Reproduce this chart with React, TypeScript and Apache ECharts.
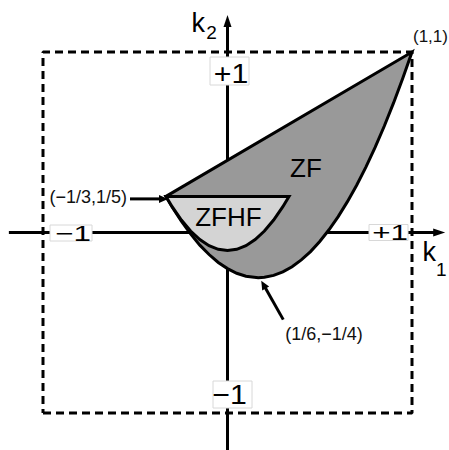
import { useEffect, useRef } from "react";
import * as echarts from "echarts";

// ---- data ----
const squareCorners = [[-1, -1], [1, -1], [1, 1], [-1, 1], [-1, -1]];
// axis lines: [x1, y1, x2, y2]
const axisLines = [
  [-1.185, 0, 1.18, 0],
  [0, -1.21, 0, 1.205],
];
const axisNames = ["k", "k"];
const axisSubscripts = ["1", "2"];
const tickPoints = [[1, 0], [-1, 0], [0, 1], [0, -1]];
const tickTexts = ["+1", "−1", "+1", "−1"];
// ZF: lower boundary from (-1/3,1/5) to (1,1); upper boundary is the straight edge back
const zfLowerBoundary = [
  [-0.3333, 0.2], [-0.3, 0.142], [-0.25, 0.0625], [-0.2, -0.008], [-0.15, -0.07],
  [-0.1, -0.122], [-0.05, -0.166], [0, -0.2], [0.05, -0.226], [0.1, -0.242],
  [0.1667, -0.25], [0.2, -0.248], [0.25, -0.2375], [0.3, -0.218], [0.35, -0.19],
  [0.4, -0.152], [0.45, -0.106], [0.5, -0.05], [0.55, 0.015], [0.6, 0.088],
  [0.65, 0.171], [0.7, 0.262], [0.75, 0.3625], [0.8, 0.472], [0.85, 0.59],
  [0.9, 0.718], [0.95, 0.855], [1, 1],
];
// ZFHF: lower boundary from (-1/3,1/5) to (1/3,1/5); top is the straight edge k2 = 1/5
const zfhfLowerBoundary = [
  [-0.3333, 0.2], [-0.3, 0.143], [-0.25, 0.069], [-0.2, 0.008], [-0.15, -0.039],
  [-0.1, -0.073], [-0.05, -0.093], [0, -0.1], [0.05, -0.093], [0.1, -0.073],
  [0.15, -0.039], [0.2, 0.008], [0.25, 0.069], [0.3, 0.143], [0.3333, 0.2],
];
const regionNames = ["ZF", "ZFHF"];
const regionLabelPoints = [[0.425, 0.357], [0.005, 0.086]];
const annotationPoints = [[-1 / 3, 1 / 5], [1 / 6, -1 / 4], [1, 1]];
const annotationTexts = ["(−1/3,1/5)", "(1/6,−1/4)", "(1,1)"];

// ---- layout / style ----
const FONT = "'Liberation Sans', Arial, Helvetica, sans-serif";
const tickLayout = [
  { box: [-43, -8, 39, 16], tx: -22, ty: 0, sx: 1.12, sy: 0.8 },
  { box: [7, -7.5, 42, 16], tx: 30, ty: 1, sx: 1.12, sy: 0.8 },
  { box: [-17.5, 5, 39, 28], tx: 3.5, ty: 21, sx: 1.08, sy: 1 },
  { box: [-14.5, -32, 39, 27], tx: 2, ty: -18.5, sx: 1.08, sy: 1 },
];
const axisNameLayout = [
  { k: [-22.6, 19.8], s: [-9.2, 37] },
  { k: [-35.9, 8.3], s: [-21.2, 17.2] },
];
const annotationLayout = [
  { arrow: [[-36, 2.5], [2, 2.5]], text: [-39, 1], align: "right", size: 18 },
  { arrow: [[25, 42], [3, 3]], text: [27, 56], align: "left", size: 18 },
  { arrow: null, text: [1, -16], align: "left", size: 17 },
];

function arrowGroup(a: number[], b: number[], lw: number, L: number, W: number, color: string) {
  const dx = b[0] - a[0];
  const dy = b[1] - a[1];
  const len = Math.hypot(dx, dy) || 1;
  const ux = dx / len;
  const uy = dy / len;
  const bx = b[0] - ux * L;
  const by = b[1] - uy * L;
  const nx = -uy;
  const ny = ux;
  return {
    type: "group",
    children: [
      {
        type: "line",
        shape: { x1: a[0], y1: a[1], x2: bx + ux * 2, y2: by + uy * 2 },
        style: { stroke: color, lineWidth: lw, fill: null },
      },
      {
        type: "polygon",
        shape: { points: [[b[0], b[1]], [bx + nx * W, by + ny * W], [bx - nx * W, by - ny * W]] },
        style: { fill: color, stroke: null },
      },
    ],
  };
}

export default function App() {
  const ref = useRef<HTMLDivElement>(null);

  useEffect(() => {
    if (!ref.current) return;
    const chart = echarts.init(ref.current, null, { renderer: "svg" });

    const option: any = {
      animation: false,
      backgroundColor: "#ffffff",
      grid: { left: 6.1, right: 0.1, top: 15.9, bottom: 0.9 },
      xAxis: { type: "value", min: -1.2, max: 1.2, show: false },
      yAxis: { type: "value", min: -1.2, max: 1.2, show: false },
      series: [
        {
          type: "line",
          name: "square",
          data: squareCorners,
          symbol: "none",
          silent: true,
          z: 1,
          lineStyle: { color: "#000", width: 3, type: [8, 5] },
        },
        {
          type: "custom",
          name: "axes",
          data: axisLines,
          silent: true,
          z: 2,
          renderItem: (_p: any, api: any) => {
            const a = api.coord([api.value(0), api.value(1)]);
            const b = api.coord([api.value(2), api.value(3)]);
            return arrowGroup(a, b, 3, 12, 4, "#000");
          },
        },
        {
          type: "custom",
          name: "ZF",
          data: [[0, 0]],
          silent: true,
          z: 3,
          renderItem: (_p: any, api: any) => ({
            type: "polygon",
            shape: { points: zfLowerBoundary.map((p) => api.coord(p)) },
            style: { fill: "#999999", stroke: "#000", lineWidth: 3, lineJoin: "miter" },
          }),
        },
        {
          type: "custom",
          name: "ZFHF",
          data: [[0, 0]],
          silent: true,
          z: 4,
          renderItem: (_p: any, api: any) => ({
            type: "polygon",
            shape: { points: zfhfLowerBoundary.map((p) => api.coord(p)) },
            style: { fill: "#d4d4d4", stroke: "#000", lineWidth: 3, lineJoin: "miter" },
          }),
        },
        {
          type: "custom",
          name: "regionLabels",
          data: regionLabelPoints,
          silent: true,
          z: 5,
          renderItem: (p: any, api: any) => {
            const c = api.coord([api.value(0), api.value(1)]);
            return {
              type: "text",
              x: c[0],
              y: c[1],
              style: {
                text: regionNames[p.dataIndex],
                fontSize: 26,
                fontFamily: FONT,
                fill: "#000",
                align: "center",
                verticalAlign: "middle",
              },
            };
          },
        },
        {
          type: "custom",
          name: "ticks",
          data: tickPoints,
          silent: true,
          z: 6,
          renderItem: (p: any, api: any) => {
            const c = api.coord([api.value(0), api.value(1)]);
            const L = tickLayout[p.dataIndex];
            return {
              type: "group",
              children: [
                {
                  type: "rect",
                  shape: { x: c[0] + L.box[0], y: c[1] + L.box[1], width: L.box[2], height: L.box[3] },
                  style: { fill: "#ffffff", stroke: "#d8d8d8", lineWidth: 1 },
                },
                {
                  type: "text",
                  x: c[0] + L.tx,
                  y: c[1] + L.ty,
                  scaleX: L.sx,
                  scaleY: L.sy,
                  style: {
                    text: tickTexts[p.dataIndex],
                    fontSize: 28,
                    fontFamily: FONT,
                    fill: "#000",
                    align: "center",
                    verticalAlign: "middle",
                  },
                },
              ],
            };
          },
        },
        {
          type: "custom",
          name: "axisNames",
          data: axisLines,
          silent: true,
          z: 6,
          renderItem: (p: any, api: any) => {
            const c = api.coord([api.value(2), api.value(3)]);
            const L = axisNameLayout[p.dataIndex];
            return {
              type: "group",
              children: [
                {
                  type: "text",
                  x: c[0] + L.k[0],
                  y: c[1] + L.k[1],
                  style: {
                    text: axisNames[p.dataIndex],
                    fontSize: 27,
                    fontFamily: FONT,
                    fill: "#000",
                    align: "left",
                    verticalAlign: "middle",
                  },
                },
                {
                  type: "text",
                  x: c[0] + L.s[0],
                  y: c[1] + L.s[1],
                  style: {
                    text: axisSubscripts[p.dataIndex],
                    fontSize: 19,
                    fontFamily: FONT,
                    fill: "#000",
                    align: "left",
                    verticalAlign: "middle",
                  },
                },
              ],
            };
          },
        },
        {
          type: "custom",
          name: "annotations",
          data: annotationPoints,
          silent: true,
          z: 7,
          renderItem: (p: any, api: any) => {
            const c = api.coord([api.value(0), api.value(1)]);
            const L = annotationLayout[p.dataIndex];
            const children: any[] = [];
            if (L.arrow) {
              const a = [c[0] + L.arrow[0][0], c[1] + L.arrow[0][1]];
              const b = [c[0] + L.arrow[1][0], c[1] + L.arrow[1][1]];
              children.push(arrowGroup(a, b, 3, 9, 4, "#000"));
            }
            children.push({
              type: "text",
              x: c[0] + L.text[0],
              y: c[1] + L.text[1],
              style: {
                text: annotationTexts[p.dataIndex],
                fontSize: L.size,
                fontFamily: FONT,
                fill: "#111",
                align: L.align,
                verticalAlign: "middle",
              },
            });
            return { type: "group", children };
          },
        },
      ],
    };

    chart.setOption(option);
    return () => {
      chart.dispose();
    };
  }, []);

  return (
    <div
      ref={ref}
      style={{ position: "absolute", left: 0, top: 0, width: 449, height: 450, background: "#fff" }}
    />
  );
}
